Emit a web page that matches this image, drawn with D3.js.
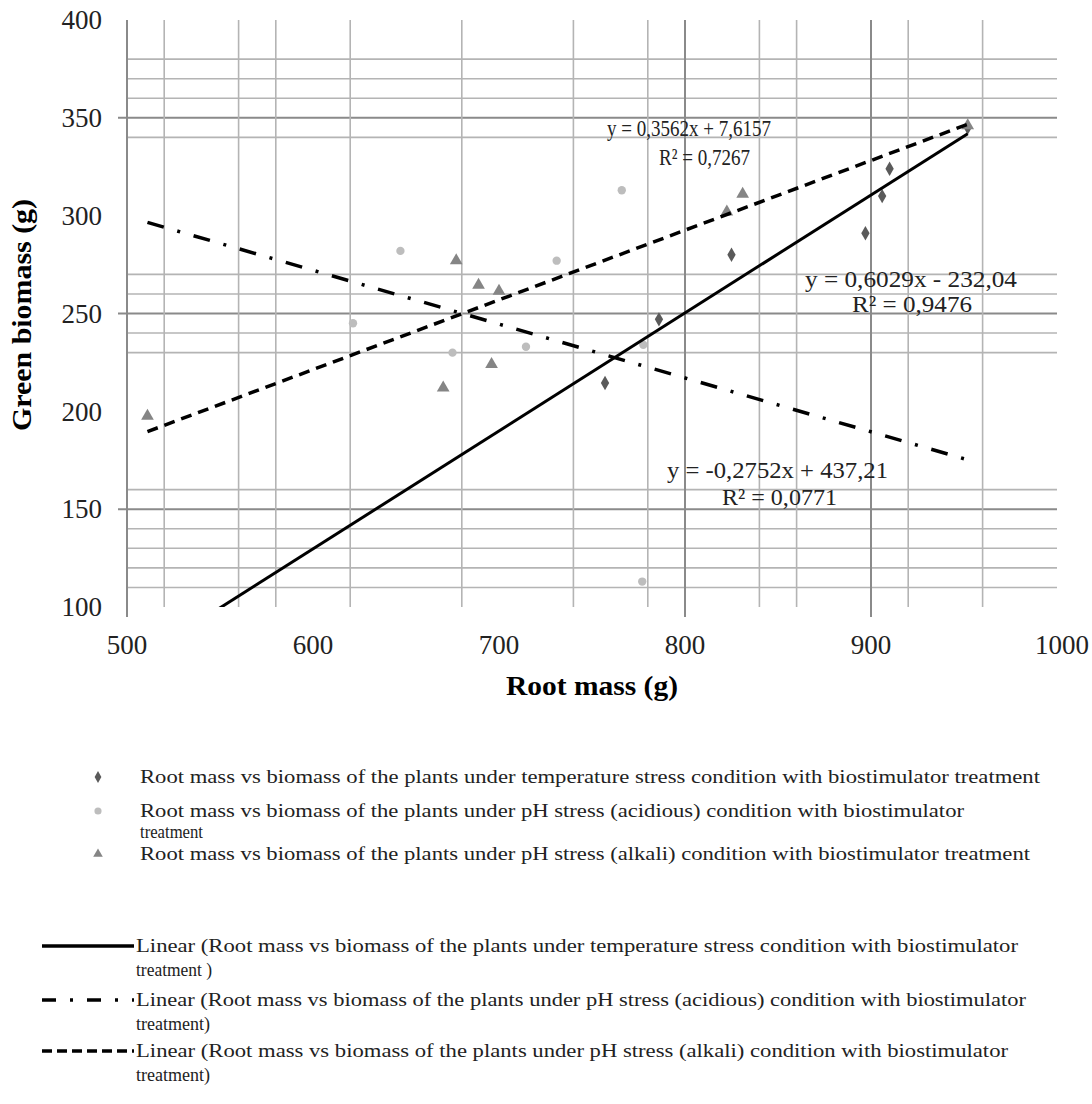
<!DOCTYPE html>
<html>
<head>
<meta charset="utf-8">
<script src="https://cdn.jsdelivr.net/npm/d3@7"></script>
<style>
  html, body { margin: 0; padding: 0; background: #fff; }
  svg { display: block; }
</style>
</head>
<body>
<script>
// ---------------- data ----------------
const tempX = [757, 786, 825, 897, 906, 910, 952];
const tempY = [214.5, 247, 280, 291, 310, 324, 345];
const acidX = [621.5, 647, 675, 714.5, 731, 766, 777, 777.6];
const acidY = [245, 282, 230, 233, 277, 313, 113, 234];
const alkaliX = [511, 670, 677, 689, 696, 700, 822.5, 831, 952];
const alkaliY = [197.6, 212, 277, 264.5, 224, 261.5, 302, 311, 346];

const trendSlopes = [0.6029, -0.2752, 0.3562];
const trendIntercepts = [-232.04, 437.21, 7.6157];
const trendStartX = [540, 511, 511];
const trendEndX = [952, 952, 952];
const trendEquations = ["y = 0,6029x - 232,04", "y = -0,2752x + 437,21", "y = 0,3562x + 7,6157"];
const trendR2 = ["R² = 0,9476", "R² = 0,0771", "R² = 0,7267"];

const xTicks = [500, 600, 700, 800, 900, 1000];
const yTicks = [100, 150, 200, 250, 300, 350, 400];
const xGrid = [520, 560, 580, 620, 680, 740, 780, 800, 840, 860, 900, 920, 960];
const xGridMajor = [800, 900];
const yGrid = [110, 120, 130, 140, 150, 160, 230, 240, 250, 260, 270, 340, 350, 360, 370, 380];
const yGridMajor = [150, 250, 350];

const xTitle = "Root mass (g)";
const yTitle = "Green biomass (g)";

const legendPointLabels = [
  ["Root mass vs biomass of the plants under temperature stress condition with biostimulator treatment"],
  ["Root mass vs biomass of the plants under pH stress (acidious) condition with biostimulator", "treatment"],
  ["Root mass vs biomass of the plants under pH stress (alkali) condition with biostimulator treatment"]
];
const legendLineLabels = [
  ["Linear (Root mass vs biomass of the plants under temperature stress condition with biostimulator", "treatment )"],
  ["Linear (Root mass vs biomass of the plants under pH stress (acidious) condition with biostimulator", "treatment)"],
  ["Linear (Root mass vs biomass of the plants under pH stress (alkali) condition with biostimulator", "treatment)"]
];

// ---------------- layout ----------------
const FONT = "'Liberation Serif', 'Times New Roman', serif";
const W = 1092, H = 1104;
const plot = { left: 127, right: 1057, top: 20, bottom: 607 };

const svg = d3.select("body").append("svg").attr("width", W).attr("height", H)
  .attr("font-family", FONT);

const x = d3.scaleLinear().domain([500, 1000]).range([plot.left, plot.right]);
const y = d3.scaleLinear().domain([100, 400]).range([plot.bottom, plot.top]);

svg.append("defs").append("clipPath").attr("id", "plotclip")
  .append("rect").attr("x", plot.left).attr("y", plot.top)
  .attr("width", plot.right - plot.left).attr("height", plot.bottom - plot.top);

// gridlines
const grid = svg.append("g");
grid.selectAll("line.hg").data(yGrid).join("line")
  .attr("x1", d => yGridMajor.includes(d) ? plot.left - 9 : plot.left)
  .attr("x2", plot.right)
  .attr("y1", d => y(d)).attr("y2", d => y(d))
  .attr("stroke", d => yGridMajor.includes(d) ? "#8a8a8a" : "#b4b4b4")
  .attr("stroke-width", d => yGridMajor.includes(d) ? 2 : 1.6);
grid.selectAll("line.vg").data(xGrid).join("line")
  .attr("x1", d => x(d)).attr("x2", d => x(d))
  .attr("y1", plot.top)
  .attr("y2", d => xGridMajor.includes(d) ? plot.bottom + 10 : plot.bottom)
  .attr("stroke", d => xGridMajor.includes(d) ? "#8a8a8a" : "#b4b4b4")
  .attr("stroke-width", d => xGridMajor.includes(d) ? 2 : 1.6);
grid.append("line").attr("x1", plot.left).attr("x2", plot.left)
  .attr("y1", plot.top).attr("y2", plot.bottom + 10)
  .attr("stroke", "#8a8a8a").attr("stroke-width", 2);

// tick labels
svg.append("g").selectAll("text").data(yTicks).join("text")
  .attr("font-family", FONT)
  .attr("x", 102).attr("y", d => y(d)).attr("dy", "0.34em")
  .attr("text-anchor", "end").attr("font-size", 27).attr("fill", "#222")
  .text(d => d);
svg.append("g").selectAll("text").data(xTicks).join("text")
  .attr("font-family", FONT)
  .attr("x", d => x(d) + (d === 1000 ? 5 : 0)).attr("y", 654)
  .attr("text-anchor", "middle").attr("font-size", 27).attr("fill", "#222")
  .text(d => d);

// axis titles
svg.append("text").attr("font-family", FONT).attr("x", 592).attr("y", 695)
  .attr("text-anchor", "middle").attr("font-size", 27).attr("font-weight", "bold")
  .attr("textLength", 172).attr("lengthAdjust", "spacingAndGlyphs")
  .text(xTitle);
svg.append("text").attr("font-family", FONT).attr("transform", "translate(22,315) rotate(-90)")
  .attr("dy", "0.35em")
  .attr("text-anchor", "middle").attr("font-size", 27).attr("font-weight", "bold")
  .attr("textLength", 232).attr("lengthAdjust", "spacingAndGlyphs")
  .text(yTitle);

// markers
const symTypes = [d3.symbolDiamond, d3.symbolCircle, d3.symbolTriangle];
const symSizes = [60, 55, 70];
const markerColors = ["#5a5a5a", "#bdbdbd", "#858585"];
const seriesData = [
  d3.zip(tempX, tempY), d3.zip(acidX, acidY), d3.zip(alkaliX, alkaliY)
];
const pts = svg.append("g");
seriesData.forEach((s, i) => {
  pts.selectAll(null).data(s).join("path")
    .attr("transform", d => `translate(${x(d[0])},${y(d[1])})`)
    .attr("d", d3.symbol().type(symTypes[i]).size(symSizes[i])())
    .attr("fill", markerColors[i]);
});

// trendlines
const dashes = [null, "17,14,3,14", "11,7"];
const trend = svg.append("g").attr("clip-path", "url(#plotclip)");
const line = d3.line().x(d => x(d[0])).y(d => y(d[1]));
trendSlopes.forEach((m, i) => {
  const xs = [trendStartX[i], trendEndX[i]];
  const data = xs.map(v => [v, m * v + trendIntercepts[i]]);
  trend.append("path").attr("d", line(data))
    .attr("fill", "none").attr("stroke", "#000")
    .attr("stroke-width", i === 0 ? 3 : 3.5)
    .attr("stroke-dasharray", dashes[i]);
});

// equation labels
const eqPos = [
  { x1: 805, x2: 1017, y1: 279, rx1: 852, rx2: 972, y2: 304 },
  { x1: 667, x2: 888, y1: 470, rx1: 722, rx2: 837, y2: 497 },
  { x1: 607, x2: 771, y1: 128, rx1: 659, rx2: 750, y2: 157 }
];
const eqs = svg.append("g");
trendEquations.forEach((t, i) => {
  const p = eqPos[i];
  eqs.append("text").attr("font-family", FONT).attr("x", p.x1).attr("y", p.y1).attr("dy", "0.34em")
    .attr("font-size", 23).attr("fill", "#222")
    .attr("textLength", p.x2 - p.x1).attr("lengthAdjust", "spacingAndGlyphs")
    .text(t);
  eqs.append("text").attr("font-family", FONT).attr("x", p.rx1).attr("y", p.y2).attr("dy", "0.34em")
    .attr("font-size", 23).attr("fill", "#222")
    .attr("textLength", p.rx2 - p.rx1).attr("lengthAdjust", "spacingAndGlyphs")
    .text(trendR2[i]);
});

// legend
const legend = svg.append("g");
const legPointY = [777, 811, 854];
const legPointEnds = [[1040], [964, 203], [1030]];
legendPointLabels.forEach((lines, i) => {
  legend.append("path").attr("transform", `translate(98,${legPointY[i]})`)
    .attr("d", d3.symbol().type(symTypes[i]).size(40)())
    .attr("fill", markerColors[i]);
  lines.forEach((t, j) => {
    legend.append("text").attr("font-family", FONT)
      .attr("x", 140).attr("y", legPointY[i] + j * 21).attr("dy", "0.34em")
      .attr("font-size", 18).attr("fill", "#222")
      .attr("textLength", legPointEnds[i][j] - 140).attr("lengthAdjust", "spacingAndGlyphs")
      .text(t);
  });
});
const legLineY = [946, 1000, 1051];
const legLineEnds = [[1018, 212], [1026, 210], [1008, 210]];
const legDashes = [null, "14,14,3,14", "10,5"];
legendLineLabels.forEach((lines, i) => {
  legend.append("line").attr("x1", 42).attr("x2", 134).attr("y1", legLineY[i]).attr("y2", legLineY[i])
    .attr("stroke", "#000").attr("stroke-width", 3.5)
    .attr("stroke-dasharray", legDashes[i]);
  lines.forEach((t, j) => {
    legend.append("text").attr("font-family", FONT)
      .attr("x", 136).attr("y", legLineY[i] + j * 24).attr("dy", "0.34em")
      .attr("font-size", 19).attr("fill", "#222")
      .attr("textLength", legLineEnds[i][j] - 136).attr("lengthAdjust", "spacingAndGlyphs")
      .text(t);
  });
});
</script>
</body>
</html>
